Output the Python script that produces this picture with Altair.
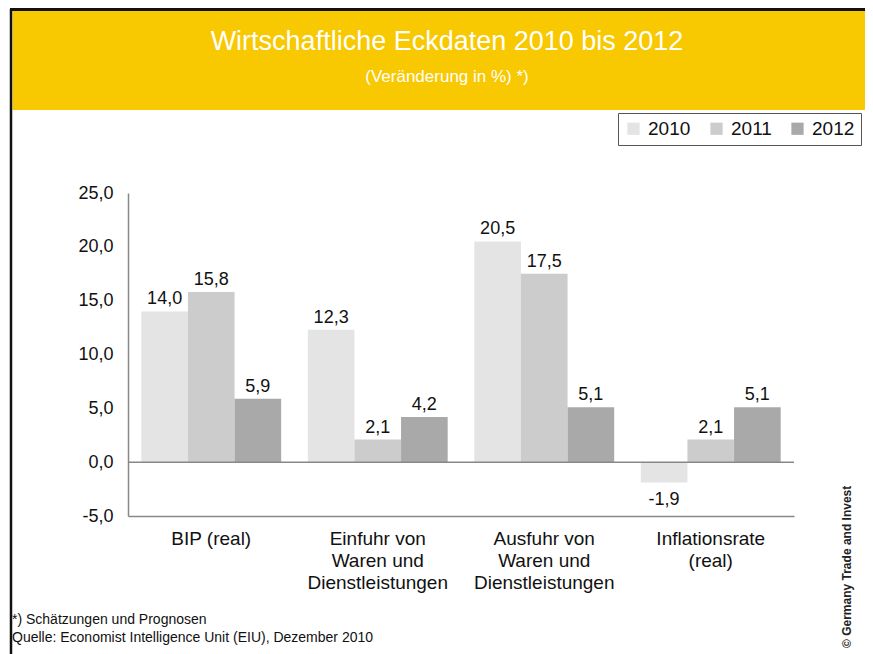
import altair as alt
import pandas as pd

categories = ["BIP (real)", "Einfuhr von|Waren und|Dienstleistungen",
              "Ausfuhr von|Waren und|Dienstleistungen", "Inflationsrate|(real)"]
years = ["2010", "2011", "2012"]
v2010 = [14.0, 12.3, 20.5, -1.9]
v2011 = [15.8, 2.1, 17.5, 2.1]
v2012 = [5.9, 4.2, 5.1, 5.1]
colors = ["#e4e4e4", "#cccccc", "#a9a9a9"]
y_ticks = [-5, 0, 5, 10, 15, 20, 25]

rows = []
for i, c in enumerate(categories):
    for y, vals in zip(years, [v2010, v2011, v2012]):
        rows.append({"cat": c, "year": y, "value": vals[i]})
df = pd.DataFrame(rows)

W, H = 666, 323
FONT = "Liberation Sans"
one = pd.DataFrame({"a": [0]})
fmt = "replace(replace(format(datum.value, '.1f'), '.', ','), '\u2212', '-')"

x_enc = alt.X("cat:N", sort=categories, title=None,
              scale=alt.Scale(paddingInner=0.16, paddingOuter=0.08),
              axis=alt.Axis(labelExpr="split(datum.label, '|')", labelAngle=0,
                            labelFontSize=19, labelFont=FONT, labelColor="#111",
                            labelLineHeight=22, labelPadding=13, ticks=False,
                            domainColor="#888", domainWidth=1.5, labelBaseline="top"))
y_enc = alt.Y("value:Q", title=None,
              scale=alt.Scale(domain=[-5, 25], nice=False, zero=False),
              axis=alt.Axis(values=y_ticks, grid=False, ticks=False,
                            labelExpr=fmt,
                            labelFontSize=18, labelFont=FONT, labelColor="#111",
                            labelPadding=15, domainColor="#888", domainWidth=1.5))

base = alt.Chart(df)

bars = base.mark_bar().encode(
    x=x_enc, y=y_enc, y2=alt.datum(0),
    xOffset=alt.XOffset("year:N", sort=years, scale=alt.Scale(paddingInner=0, paddingOuter=0)),
    color=alt.Color("year:N", sort=years, scale=alt.Scale(domain=years, range=colors),
                    legend=alt.Legend(title=None, orient="none", legendX=490, legendY=-80,
                                      direction="horizontal", symbolType="square",
                                      symbolSize=150, symbolStrokeWidth=0,
                                      labelFontSize=19, labelFont=FONT, labelColor="#111",
                                      strokeColor="#555", padding=6, columnPadding=16,
                                      labelOffset=5, fillColor="white")),
)

pos_labels = base.transform_filter("datum.value >= 0").transform_calculate(
    lab=fmt).mark_text(fontSize=18, font=FONT, color="#111", baseline="alphabetic", dy=-7).encode(
    x=alt.X("cat:N", sort=categories), y="value:Q",
    xOffset=alt.XOffset("year:N", sort=years), text="lab:N")
neg_labels = base.transform_filter("datum.value < 0").transform_calculate(
    lab=fmt).mark_text(fontSize=18, font=FONT, color="#111", baseline="top", dy=8).encode(
    x=alt.X("cat:N", sort=categories), y="value:Q",
    xOffset=alt.XOffset("year:N", sort=years), text="lab:N")

zero = alt.Chart(one).mark_rule(color="#888", strokeWidth=1.5).encode(
    y=alt.datum(0), x=alt.value(0), x2=alt.value(W))

banner = alt.Chart(one).mark_rect(color="#f8c800").encode(
    x=alt.value(-115.5), x2=alt.value(745), y=alt.value(-182), y2=alt.value(-83))
top_border = alt.Chart(one).mark_rule(color="#111", strokeWidth=3).encode(
    x=alt.value(-118), x2=alt.value(745), y=alt.value(-183.5))
left_border = alt.Chart(one).mark_rule(color="#111", strokeWidth=2.5).encode(
    x=alt.value(-117), y=alt.value(-184), y2=alt.value(461))

title = alt.Chart(one).mark_text(text="Wirtschaftliche Eckdaten 2010 bis 2012", fontSize=27,
                                 font=FONT, color="white", align="center", baseline="middle").encode(
    x=alt.value(319), y=alt.value(-151))
subtitle = alt.Chart(one).mark_text(text="(Veränderung in %) *)", fontSize=17,
                                    font=FONT, color="white", align="center", baseline="middle").encode(
    x=alt.value(319), y=alt.value(-116))

foot1 = alt.Chart(one).mark_text(text="*) Schätzungen und Prognosen", fontSize=14, font=FONT,
                                 color="#111", align="left", baseline="middle").encode(
    x=alt.value(-116), y=alt.value(427))
foot2 = alt.Chart(one).mark_text(text="Quelle: Economist Intelligence Unit (EIU), Dezember 2010",
                                 fontSize=14, font=FONT, color="#111", align="left",
                                 baseline="middle").encode(x=alt.value(-116), y=alt.value(445))
copy = alt.Chart(one).mark_text(text="© Germany Trade and Invest", fontSize=12, font=FONT,
                                fontWeight="bold", color="#222", align="left", baseline="middle",
                                angle=270).encode(x=alt.value(719), y=alt.value(455))

chart = alt.layer(banner, top_border, left_border, title, subtitle, bars, zero,
                  pos_labels, neg_labels, foot1, foot2, copy).properties(
    width=W, height=H,
    background="white",
    autosize=alt.AutoSizeParams(type="none"),
    padding={"left": 120, "top": 185, "right": 71, "bottom": 138},
).configure_view(stroke=None)

chart.save("out.html", embed_options={"renderer": "svg", "actions": False})
